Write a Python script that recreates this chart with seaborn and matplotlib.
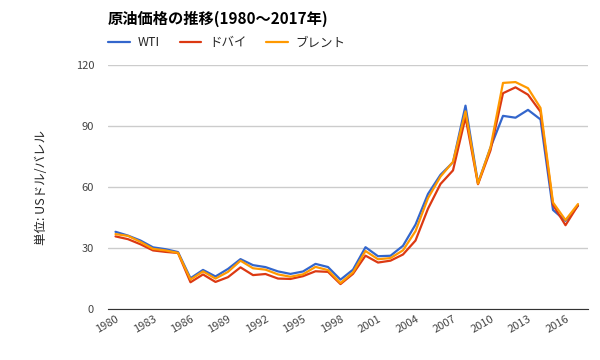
import pandas as pd
import matplotlib.pyplot as plt
import seaborn as sns

# 年ごとの原油価格 (USドル/バレル)
years = list(range(1980, 2018))
wti = [37.96, 36.08, 33.65, 30.30, 29.39, 27.98, 15.10, 19.18, 15.97, 19.68,
       24.50, 21.54, 20.57, 18.45, 17.21, 18.42, 22.16, 20.61, 14.39, 19.31,
       30.37, 25.93, 26.16, 31.07, 41.49, 56.59, 66.02, 72.20, 100.06, 61.92,
       79.45, 95.04, 94.13, 97.99, 93.28, 48.71, 43.34, 50.8]
dubai = [35.69, 34.32, 31.80, 28.78, 28.06, 27.53, 13.10, 16.95, 13.27, 15.62,
         20.45, 16.63, 17.17, 14.93, 14.74, 16.10, 18.52, 18.23, 12.21, 17.25,
         26.20, 22.81, 23.74, 26.78, 33.64, 49.35, 61.50, 68.19, 94.34, 61.39,
         78.06, 106.18, 109.08, 105.47, 97.07, 51.20, 41.19, 51.0]
brent = [36.83, 35.93, 32.97, 29.55, 28.78, 27.56, 14.43, 18.44, 14.92, 18.23,
         23.73, 20.00, 19.32, 16.97, 15.82, 17.02, 20.67, 19.09, 12.72, 17.97,
         28.50, 24.44, 25.02, 28.83, 38.27, 54.52, 65.14, 72.39, 97.26, 61.67,
         79.50, 111.26, 111.67, 108.66, 98.95, 52.39, 43.73, 51.6]
series_names = ["WTI", "ドバイ", "ブレント"]
colors = ["#3366cc", "#dc3912", "#ff9900"]

df = pd.DataFrame({"年": years, "WTI": wti, "ドバイ": dubai, "ブレント": brent})
df_long = df.melt(id_vars="年", var_name="種類", value_name="価格")

sns.set_style("white")
plt.rcParams['font.family'] = ['Noto Sans CJK JP', 'DejaVu Sans']

fig = plt.figure(figsize=(6, 3.6), dpi=100)
ax = fig.add_axes([0.18, 0.142, 0.80, 0.677])

sns.lineplot(data=df_long, x="年", y="価格", hue="種類", hue_order=series_names,
             palette=colors, linewidth=1.6, ax=ax)

ax.set_xlim(1979.4, 2017.8)
ax.set_ylim(0, 120)
ax.set_yticks([0, 30, 60, 90, 120])
ax.set_xticks(list(range(1980, 2017, 3)))
ax.grid(axis="y", color="#cccccc", linewidth=1)
ax.set_axisbelow(True)
for s in ["top", "right", "left"]:
    ax.spines[s].set_visible(False)
ax.spines["bottom"].set_color("#333333")
ax.tick_params(axis="both", length=0, labelsize=8, labelcolor="#444444")
ax.tick_params(axis="y", pad=10)
for lab in ax.get_xticklabels():
    lab.set_rotation(30)
    lab.set_ha("right")
    lab.set_rotation_mode("anchor")
ax.set_xlabel("")
ax.set_ylabel("単位: USドル/バレル", fontsize=9, color="#222222", labelpad=20)

handles, labels = ax.get_legend_handles_labels()
ax.legend(handles, labels, loc="lower left", bbox_to_anchor=(0.0, 1.065), ncol=3,
          frameon=False, fontsize=9, handlelength=1.75, handletextpad=0.6,
          columnspacing=1.6, borderaxespad=0, borderpad=0)

fig.text(0.18, 0.935, "原油価格の推移(1980〜2017年)", fontsize=11,
         fontweight="bold", color="#000000")

plt.savefig("out.png", dpi=100)
